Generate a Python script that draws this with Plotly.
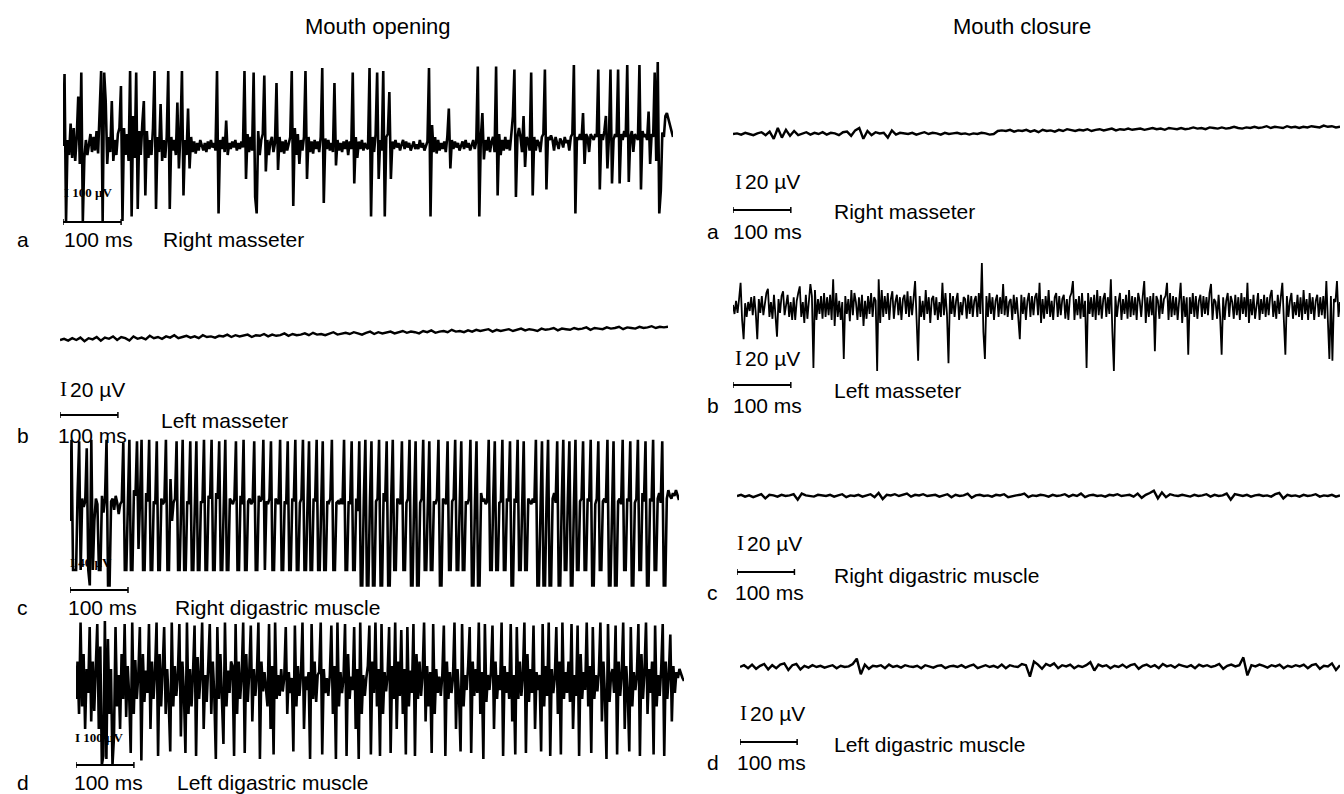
import plotly.graph_objects as go

W, H = 1344, 794
DURATION_MS = 1050

# ---------------- data (µV, uniformly sampled over DURATION_MS) ----------------
open_right_masseter = [
    0, 480, -500, 40, -60, 150, -80, 120, -100, 60, 330, -120, 490, -500, -80, 40, -60, 30, 80, -40,
    60, -30, 100, -50, 200, 500, -500, 490, 300, -120, 60, -40, 300, -100, 40, -60, 80, 120, 400, -500,
    120, -60, 80, -100, 500, -470, 200, -80, 490, -420, 100, -60, 150, 300, -330, 100, -80, 40, -60, 120,
    500, -420, 60, -40, 280, -100, 40, -80, 60, 500, -420, 60, -30, 40, -60, 290, -150, 80, 500, -330,
    40, -60, 250, -150, 60, -40, 30, -50, 20, -30, 40, 10, -30, 20, -40, 30, -20, 40, -10, 20,
    -30, 500, -450, 40, -20, 60, -40, 170, -60, 20, -20, 30, -10, 40, -30, 20, -20, 30, -10, 500,
    -220, 80, -40, 60, -30, 490, -340, -450, 100, -60, 40, 80, 470, -170, 40, -60, 30, 60, -40, 20,
    420, -160, 60, -40, 30, -50, 40, -30, 20, 60, 500, -400, 120, -60, 80, -120, 40, -30, 60, 500,
    -220, 60, -40, 30, -50, 40, -20, 30, -40, 60, 520, -380, 50, -20, 40, -30, 20, -40, 420, -130,
    40, -30, 20, -40, 30, -20, 40, -60, 30, -20, 490, -250, 60, -80, 30, -20, 40, -30, 20, -10,
    -20, 520, -470, 60, -40, 80, 490, -220, 40, -30, 500, -470, 60, 80, 360, -220, 30, -20, 40, -10,
    20, -30, 10, 40, -20, 30, -10, 20, -30, 10, 30, -20, 10, -20, 40, -10, 20, -30, 10, 30,
    520, -470, 140, -40, 60, -50, 40, -30, 20, -20, 30, -40, 60, 250, -150, 40, -20, 30, -10, 20,
    -30, 10, 30, -20, 40, -10, 20, -30, 10, 40, -20, 30, 530, -470, 60, 220, -90, 40, -30, 60,
    -40, 30, 60, -40, 530, -330, 80, -60, 40, -30, 60, -20, 40, -30, 80, 200, 510, -340, 60, 120,
    60, -40, 200, -140, 60, 40, -30, 490, -330, 60, -30, 40, 20, -40, 60, 80, 510, -290, 60, 40,
    70, 40, -30, 60, 20, -20, 50, 30, -10, 60, 20, 40, -30, 60, 80, 540, -450, 60, 40, 80,
    40, 220, -120, 80, 60, -40, 80, 60, 40, 80, 60, 510, -290, 80, 40, 100, 200, -150, 60, 510,
    -250, 40, 80, 60, 510, -250, 80, 40, 100, 60, 540, -240, 60, 100, -40, 80, 60, 40, 540, -290,
    100, 60, 80, 40, 230, -120, 80, 60, 490, -100, 560, -450, -300, 90, 60, 200, 220, 180, 140, 100,
    60,
]

open_left_masseter = [
    0, 2, -1, 3, 0, 4, -2, 3, 1, 5,
    -1, 4, 2, 6, 0, 5, 3, -1, 6, 2,
    4, 1, 7, 3, 5, 2, 6, 4, 8, 3,
    5, 7, 4, 6, 3, 8, 5, 6, 4, 7,
    6, 9, 5, 8, 6, 7, 9, 5, 8, 7,
    10, 6, 9, 7, 8, 11, 7, 10, 8, 9,
    11, 8, 12, 9, 10, 8, 11, 13, 9, 10,
    12, 10, 13, 11, 9, 12, 14, 10, 13, 11,
    12, 14, 11, 13, 15, 12, 14, 13, 11, 15,
    13, 16, 12, 14, 15, 13, 17, 14, 15, 13,
    16, 14, 17, 15, 16, 18, 14, 17, 15, 16,
    18, 15, 17, 19, 16, 18, 17, 15, 19, 17,
    18, 20, 16, 19, 18, 17, 20, 18, 19, 21,
    17, 20, 19, 18, 21, 19, 20, 22, 18, 21,
    20, 19, 22, 20, 21, 23, 20, 22, 21, 22,
]

open_right_digastric = [
    -100, 480, -450, -450, -450, 100, 470, -450, 60, 0, 40, 420, -450, -560, 480, -450, -100, 60, 20, -450,
    -450, 80, -40, 60, 480, -560, -560, 40, 60, -20, 80, 30, -50, 20, 40, 460, -450, -450, 60, 480,
    -450, -450, 120, 80, 470, -300, 60, 480, -450, -450, 100, 40, 480, -450, -450, 40, 20, 470, -450, -450,
    60, 20, 40, 480, -450, -450, 200, -100, 30, 60, 470, -450, -450, 40, 480, -450, -450, 40, 20, 470,
    -450, -450, 60, 470, -450, -450, 40, 30, 480, -450, -450, 80, 60, 480, -450, -450, 100, 60, 470, -450,
    -450, 40, 480, -450, -450, 60, 40, 20, 60, 470, -450, -450, 80, 20, 480, -450, -450, 40, 60, 20,
    40, 470, -450, -450, 80, 40, 60, 480, -450, 40, 20, 60, 470, -450, -450, 60, 40, 20, 480, -450,
    -450, 40, 20, 470, -450, -450, 60, 40, 480, -450, -450, 30, 60, 480, -450, -450, 20, 470, -450, -450,
    60, 40, 480, -450, -450, 60, 470, -450, -450, 40, 30, 60, 480, -450, -450, 30, 40, 20, 60, 20,
    480, -450, -450, 40, 20, 470, -450, -450, 60, -30, 470, -560, -560, 60, 480, -560, -560, 40, 470, -560,
    -560, 40, 60, 480, -560, -560, 100, 40, 470, -560, -560, 60, 480, -450, -450, 60, 40, 20, 470, -450,
    -450, 30, 60, 480, -560, -560, 40, 470, -560, -560, 30, 60, 480, -450, -450, 60, 470, -450, -450, 40,
    20, 60, 480, -560, -560, 60, 40, 20, 470, -450, -450, 40, 60, 480, -450, -450, 30, 470, -450, -450,
    40, 20, 60, 480, -560, -560, 40, 470, -560, -560, 100, 40, 60, 20, 40, 480, -450, -450, 60, 470,
    -450, -450, 30, 40, 480, -450, -450, 60, 40, 470, -560, -560, 60, 30, 480, -450, -450, 40, 470, -450,
    -450, 60, 40, 20, 60, 30, 480, -560, -560, 60, 470, -560, -560, 40, 480, -560, -560, 60, 100, 30,
    470, -560, -560, 40, 480, -450, -450, 60, 470, -560, -560, 30, 480, -450, -450, 40, 60, 470, -450, -450,
    60, 40, 480, -560, -560, 20, 60, 470, -450, -450, 40, 60, 30, 480, -560, -560, 60, 470, -560, -560,
    40, 60, 20, 480, -450, -450, 60, 40, 470, -560, -560, 30, 60, 480, -450, -450, 100, 40, 470, -560,
    -560, 60, 40, 480, -450, -450, 60, 100, 30, 470, -560, -560, 60, 120, 80, 60, 100, 80, 120, 80,
    50,
]

open_left_digastric = [
    -100, 150, -200, 410, -150, 200, -300, 100, -60, 380, -250, 150, -180, 80, 400, -300, 250, -540, -480, 420,
    -500, 300, -200, 100, -540, -350, 380, -150, 60, -300, 200, -100, 400, -220, 120, -80, -460, 410, -200, 160,
    -100, 60, 380, -510, 200, -120, 90, -60, 400, -300, 150, -100, 80, 410, -480, 200, -150, 100, 380, -200,
    100, -120, -450, 410, -150, 120, -80, 60, 400, -350, 150, -60, -460, 410, -200, 100, -150, 80, 390, -480,
    180, -100, 60, 410, -300, 60, -120, 120, 400, -200, 150, -80, -500, 380, -100, 200, -150, -400, 410, -150,
    90, -60, 150, 120, -480, 400, -200, 150, -100, 60, 410, -460, 200, -120, 80, 390, -250, 100, -80, 60,
    410, -500, 150, -50, 80, -60, -150, 400, -300, 120, -470, 410, -100, 60, -80, 100, -50, 40, 380, -200,
    80, -60, 40, -450, 390, -150, 120, -80, 60, 410, -300, 50, -40, 80, -500, 400, -100, 150, -120, 60,
    80, 410, -470, 100, -60, 40, -80, 60, 390, -200, 120, -500, 410, -150, 80, -60, 40, 400, -480, 200,
    -100, 50, -40, 380, -300, 100, -500, 410, -200, 60, -80, 40, 120, 390, -470, 150, -60, 410, -150, 100,
    -480, 400, -200, 80, -50, 60, 380, -460, 120, -100, 410, -300, 150, -80, 360, -200, 100, -470, 380, -150,
    90, -60, 400, -480, 200, -100, 150, -80, 60, 410, -250, 120, -150, 80, -460, 400, -200, 100, -60, 50,
    -80, 60, 390, -480, 150, -100, 80, -60, 40, 410, -300, 100, -80, -450, 400, -150, 60, -40, 120, 380,
    -460, 150, -80, 100, -60, 410, -200, 80, -500, 400, -120, 60, -40, 80, 390, -300, 150, -100, 60, -40,
    410, -480, 120, -60, 80, -100, 400, -250, 60, -470, 380, -100, 150, -80, 60, 410, -460, 200, -120, 100,
    -60, 390, -300, 80, -40, 60, -450, 400, -150, 120, -80, 410, -480, 100, -60, 40, 380, -200, 150, -470,
    410, -100, 80, -60, 150, -120, 400, -300, 60, -80, 390, -480, 200, -100, 80, -40, 410, -150, 120, -460,
    380, -100, 60, -50, 80, 410, -250, 150, -80, -500, 400, -120, 60, 100, -60, 390, -470, 150, -80, 60,
    410, -300, 120, -60, -450, 380, -150, 80, -40, 60, 400, -480, 200, -100, 80, 410, -200, 100, -60, 150,
    -470, 390, -150, 60, -80, 100, 400, -480, 150, -100, 60, 330, -250, 120, -60, 80, 40, 100, 60, 40,
    20,
]

close_right_masseter = [
    0, 1, -1, 2, 0, -2, 1, 3, -2, 4,
    -8, 10, -6, 7, -3, 5, -2, 1, 3, -1,
    2, 0, 3, -1, 2, 1, -2, 3, 4, -3,
    6, 10, -8, 5, -2, 3, 1, 2, -6, 6,
    -1, 2, 1, 0, 2, -1, 1, 3, 0, 2,
    1, -1, 2, 0, 1, 2, 0, 1, -1, 1,
    0, 2, 1, -1, 0, 5, 6, 5, 7, 4,
    6, 5, 7, 4, 6, 3, 7, 5, 6, 4,
    7, 5, 8, 6, 5, 7, 6, 8, 5, 7,
    8, 6, 7, 9, 6, 8, 7, 9, 7, 8,
    9, 7, 8, 10, 8, 9, 7, 10, 9, 8,
    10, 8, 9, 11, 9, 10, 8, 11, 10, 9,
    11, 9, 10, 12, 10, 9, 11, 10, 12, 10,
    11, 13, 10, 12, 11, 10, 13, 11, 12, 10,
    12, 11, 13, 12, 11, 14, 12, 13, 11, 12,
]

close_left_masseter = [
    5, -10, 12, -8, 15, 42, -20, -52, 8, -15, 10, -5, 18, -12, 20, -8, -52, 15, -8, 20,
    -12, 5, 25, 32, -15, 10, -18, 22, -10, -48, 15, -8, 20, 28, -12, 5, 22, -15, 10, -20,
    18, -20, 12, 25, 36, -15, 10, -25, 22, -18, 15, 40, 20, -100, 30, -20, 15, -10, 20, -18,
    25, -15, 18, -12, 22, -20, 48, -30, 25, -15, 12, -20, 10, -85, 20, -10, 15, -22, 30, -12,
    25, 10, -20, 18, -15, 22, -30, 12, -18, 20, -10, 25, -15, 18, 12, -105, 48, -25, 30, -15,
    20, -10, 25, -20, 15, 28, -18, 10, 22, -12, 18, -20, 15, 22, -10, 28, -15, 20, -12, 15,
    45, -20, -88, 20, -15, 12, -20, 30, -10, 18, -25, 15, 20, -12, 18, -20, 10, -15, 42, -12,
    25, -10, -92, 25, -10, 20, -15, 12, 25, -20, 10, -12, 18, 15, -18, 22, -10, 20, -15, 12,
    20, -15, 25, -10, 75, -40, -85, 20, -15, 25, -10, 18, -20, 12, 22, -15, 18, -10, 40, -12,
    20, -15, 10, 15, -20, 22, -10, 18, -12, -52, 22, -10, 18, -20, 12, 25, -15, 20, -12, 18,
    25, -12, 42, -25, 15, -18, 20, -10, 30, -15, 12, -20, 18, 25, -15, 20, -12, 15, 22, -18,
    15, -20, 18, 25, 45, -20, 15, -12, 20, -18, 25, -15, 12, -100, 25, -10, 18, -15, 22, -20,
    30, -12, 20, -18, 15, 25, -15, 18, -10, 48, -40, -105, 20, -15, 10, 25, -20, 15, -10, 22,
    -18, 30, -15, 20, -12, 18, -20, 25, 12, -15, 20, 45, -25, 18, -15, 20, -12, 25, -72, 20,
    12, -18, 22, -10, 15, 20, 42, -20, 25, -15, 20, -12, 18, -20, 12, 42, -25, 20, -15, 18,
    -78, 18, -10, 25, -15, 20, -18, 12, 22, -15, 20, -10, 18, -12, 25, 40, -20, 15, 10, -18,
    22, -15, -78, 18, -20, 12, 25, -15, 20, 10, -18, 22, -12, 18, -20, 25, -10, 18, -15, 42,
    -25, 15, -12, 22, -18, 10, 25, -20, 15, -10, 22, -15, 18, -12, 20, 30, -15, 12, -18, 22,
    -10, 18, 42, -20, -78, 20, -15, 12, 25, -18, 10, -12, 22, -15, 18, -20, 30, -10, 15, -20,
    25, -10, 18, -20, 12, 22, -15, 18, -12, 20, -18, 45, -20, -85, 20, -88, 15, 10, 45, -15,
    10,
]

close_right_digastric = [
    0, 2, -1, 1, -2, 0, 3, -4, 2, 1,
    -1, 2, 0, 1, 3, -6, 4, 1, 0, -1,
    2, 1, 0, 2, -1, 1, 3, -2, 1, 0,
    2, -1, 1, 3, -2, 5, -5, 2, 1, 3,
    0, 2, 4, -1, 2, 1, 3, 0, 1, 2,
    -1, 1, 3, -2, 2, 0, 1, 4, -3, 1,
    2, 0, 1, -1, 2, 1, 3, -2, 0, 1,
    2, 4, -2, 1, 0, 2, 1, -1, 2, 0,
    1, 3, -1, 2, 0, 4, -2, 1, 2, 0,
    1, -1, 2, 1, 3, 0, 1, 2, -1, 4,
    -3, 2, 5, 9, -4, 6, -2, 3, 1, 0,
    2, 1, -1, 2, 0, 1, 3, -1, 2, 0,
    1, 4, -6, 3, 1, 0, 2, -1, 1, 2,
    0, 1, -1, 3, 5, -4, 2, 0, 1, -1,
    2, 0, 1, 3, -1, 1, 0, 2, -1, 1,
]

close_left_digastric = [
    0, 3, -2, 4, -3, 2, 5, -4, 3, -2,
    4, 6, -5, 3, 5, -4, 2, -1, 3, 0,
    2, -1, 1, 3, -2, 2, 0, 1, 5, 14,
    -12, 4, -3, 2, 1, 3, -2, 4, 0, 2,
    -1, 3, 1, 0, 2, -2, 3, 1, -1, 2,
    3, -2, 1, 2, 0, 3, -1, 2, 4, -2,
    1, 3, 0, 2, -1, 4, -2, 3, 1, 0,
    5, 3, -16, 9, 4, -3, 5, 2, 6, -2,
    3, 1, 4, -2, 2, 0, 3, 8, -6, 4,
    1, 3, -2, 2, 0, 4, -1, 3, 5, -3,
    2, 4, 0, 3, -2, 5, 1, 3, -1, 4,
    2, 0, 3, -2, 4, 1, 3, 0, 2, 5,
    -3, 2, 4, 1, 3, 16, -14, 3, 1, 4,
    2, -1, 3, 1, 4, -2, 2, 0, 3, 1,
    4, -2, 3, 5, -3, 2, 1, 6, -5, 3,
]

column_titles = ["Mouth opening", "Mouth closure"]
panel_letters = ["a", "b", "c", "d"]
muscle_names = ["Right masseter", "Left masseter", "Right digastric muscle", "Left digastric muscle"]
time_bar_label = "100 ms"
amp_labels = ["100 µV", "20 µV", "40 µV", "100 µV", "20 µV", "20 µV", "20 µV", "20 µV"]

# ---------------- layout geometry (pixels) ----------------
FONT = "Liberation Sans, Arial, Helvetica, sans-serif"
SERIF = "Liberation Serif, Times New Roman, serif"
FS = 21
D = 100  # half-height of each panel (px)

panels = [
    # left column: mouth opening
    dict(y=open_right_masseter, x0=63, x1=673, base=146, k=0.15, lw=2.6, bar=222,
         letter=(15, 239), ms=(62, 239), name=(161, 239), amp=(62, 192), amp_small=True),
    dict(y=open_left_masseter, x0=60, x1=668, base=340, k=0.6, lw=2.4, bar=415,
         letter=(15, 435), ms=(56, 435), name=(159, 420), amp=(58, 389), amp_small=False),
    dict(y=open_right_digastric, x0=70, x1=679, base=507, k=0.14, lw=2.6, bar=590,
         letter=(15, 607), ms=(66, 607), name=(173, 607), amp=(68, 562), amp_small=True),
    dict(y=open_left_digastric, x0=76, x1=684, base=684, k=0.15, lw=2.6, bar=765,
         letter=(15, 782), ms=(72, 782), name=(175, 782), amp=(73, 737), amp_small=True),
    # right column: mouth closure
    dict(y=close_right_masseter, x0=733, x1=1340, base=134, k=0.6, lw=2.4, bar=210,
         letter=(705, 231), ms=(731, 231), name=(832, 212), amp=(733, 182), amp_small=False),
    dict(y=close_left_masseter, x0=733, x1=1340, base=308, k=0.6, lw=1.8, bar=385,
         letter=(705, 405), ms=(731, 405), name=(832, 390), amp=(733, 358), amp_small=False),
    dict(y=close_right_digastric, x0=737, x1=1340, base=496, k=0.6, lw=2.4, bar=572,
         letter=(705, 592), ms=(733, 592), name=(832, 575), amp=(735, 543), amp_small=False),
    dict(y=close_left_digastric, x0=740, x1=1340, base=667, k=0.6, lw=2.4, bar=742,
         letter=(705, 762), ms=(735, 762), name=(832, 744), amp=(738, 713), amp_small=False),
]


def px(x):
    return x / W


def py(y):
    return 1 - y / H


fig = go.Figure()
layout = dict(width=W, height=H, autosize=False, margin=dict(l=0, r=0, t=0, b=0),
              paper_bgcolor="white", plot_bgcolor="rgba(0,0,0,0)", showlegend=False)
shapes, annotations = [], []


def label(x, y, text, size=FS, family=FONT, anchor="left"):
    annotations.append(dict(x=px(x), y=py(y), xref="paper", yref="paper", text=text,
                            showarrow=False, xanchor=anchor, yanchor="middle",
                            font=dict(family=family, size=size, color="black")))


for i, p in enumerate(panels):
    n = i + 1
    xa = "xaxis" if n == 1 else f"xaxis{n}"
    ya = "yaxis" if n == 1 else f"yaxis{n}"
    xr = "x" if n == 1 else f"x{n}"
    yr = "y" if n == 1 else f"y{n}"
    half = D / p["k"]
    layout[xa] = dict(domain=[px(p["x0"]), px(p["x1"])], range=[0, DURATION_MS],
                      visible=False, fixedrange=True, anchor=yr)
    layout[ya] = dict(domain=[py(p["base"] + D), py(p["base"] - D)], range=[-half, half],
                      visible=False, fixedrange=True, anchor=xr)
    ys = p["y"]
    xs = [j * DURATION_MS / (len(ys) - 1) for j in range(len(ys))]
    fig.add_trace(go.Scatter(x=xs, y=ys, mode="lines", xaxis=xr, yaxis=yr,
                             line=dict(color="black", width=p["lw"]), hoverinfo="skip"))
    # 100 ms time scale bar with end ticks
    ybar = -(p["bar"] - p["base"]) / p["k"]
    tick = 3 / p["k"]
    shapes.append(dict(type="line", xref=xr, yref=yr, x0=0, x1=100, y0=ybar, y1=ybar,
                       line=dict(color="black", width=2)))
    for xe in (0, 100):
        shapes.append(dict(type="line", xref=xr, yref=yr, x0=xe, x1=xe,
                           y0=ybar - tick, y1=ybar + tick, line=dict(color="black", width=1.5)))
    label(*p["letter"], panel_letters[i % 4])
    label(*p["ms"], time_bar_label)
    label(*p["name"], muscle_names[i % 4])
    ax_, ay_ = p["amp"]
    if p["amp_small"]:
        label(ax_, ay_, "<b>I " + amp_labels[i] + "</b>", size=13, family=SERIF)
    else:
        label(ax_, ay_, "I", size=FS, family=SERIF)
        label(ax_ + 10, ay_, amp_labels[i])

for title, cx in zip(column_titles, (378, 1022)):
    label(cx, 26, title, size=22, anchor="center")

layout["shapes"] = shapes
layout["annotations"] = annotations
fig.update_layout(**layout)
fig.write_html("out.html", config={"displayModeBar": False, "staticPlot": True},
               post_script="document.body.style.margin='0px';document.body.style.overflow='hidden';")
